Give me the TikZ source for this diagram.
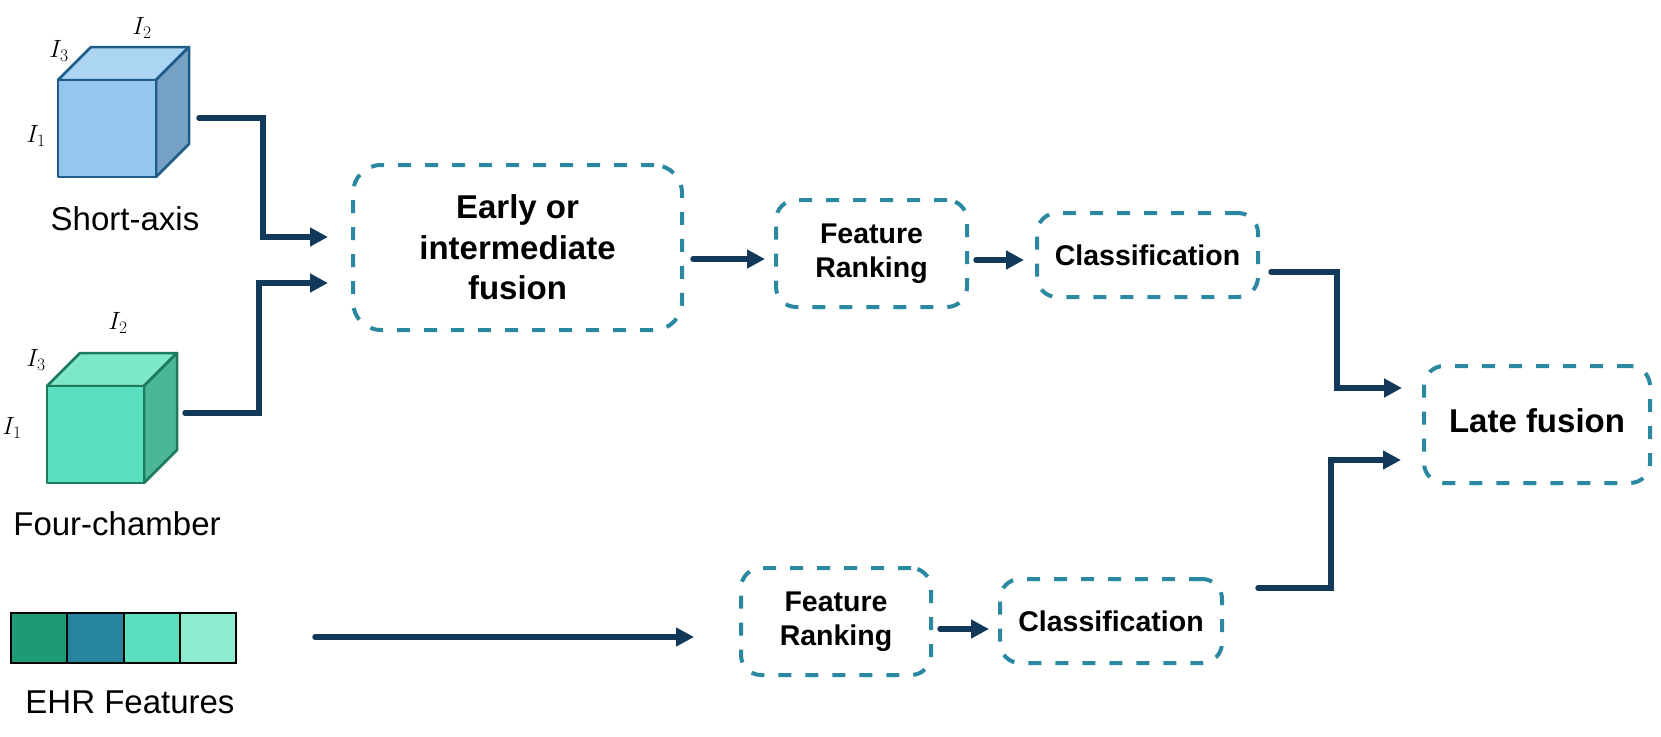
\documentclass[tikz,border=0pt]{standalone}
\usepackage{fix-cm}
\usepackage{fontspec}
\setmainfont{Liberation Sans}
\usetikzlibrary{arrows.meta}
\definecolor{dashc}{HTML}{2A88A0}
\definecolor{arrc}{HTML}{12395A}
\definecolor{cubeAline}{HTML}{1F5C8A}
\definecolor{cubeAfront}{HTML}{93C7EE}
\definecolor{cubeAtop}{HTML}{ABD5F3}
\definecolor{cubeAside}{HTML}{76A3C5}
\definecolor{cubeBline}{HTML}{1E7A5E}
\definecolor{cubeBfront}{HTML}{5AE0BE}
\definecolor{cubeBtop}{HTML}{7DE8C9}
\definecolor{cubeBside}{HTML}{4AB896}
\definecolor{ehrA}{HTML}{1F9A77}
\definecolor{ehrB}{HTML}{26849D}
\definecolor{ehrC}{HTML}{5AE0BF}
\definecolor{ehrD}{HTML}{90EBD3}
\begin{document}
\begin{tikzpicture}[x=1pt,y=-1pt,
  box/.style={draw=dashc, line width=4pt, dash pattern=on 13pt off 14pt,
    rounded corners=20pt, inner sep=0pt, align=center,
    font=\bfseries\fontsize{28.5}{34}\selectfont},
  bigbox/.style={box, rounded corners=28pt, font=\bfseries\fontsize{33}{40.5}\selectfont},
  conn/.style={draw=arrc, line width=5.5pt, line cap=round,
    -{Triangle[length=18pt,width=18pt]}},
  caption/.style={anchor=base, inner sep=0pt, font=\fontsize{33}{40}\selectfont},
  dimlabel/.style={inner sep=0pt, font=\fontsize{25}{30}\selectfont},
  cubeline/.style={line width=2.5pt, line join=round},
  cell/.style={draw=black, line width=2pt}
]
\useasboundingbox (0,0) rectangle (1661,736);

% ---------- Cube 1 (short-axis) ----------
\filldraw[cubeline, draw=cubeAline, fill=cubeAtop] (58,80) -- (91,47) -- (189,47) -- (156,80) -- cycle;
\filldraw[cubeline, draw=cubeAline, fill=cubeAside] (156,80) -- (189,47) -- (189,144) -- (156,177) -- cycle;
\filldraw[cubeline, draw=cubeAline, fill=cubeAfront] (58,80) rectangle (156,177);
\node[dimlabel] (sa2) at (142,28) {$I_2$};
\node[dimlabel] (sa3) at (59,51) {$I_3$};
\node[dimlabel] (sa1) at (36,136) {$I_1$};
\node[caption] (satext) at (125,230) {Short-axis};

% ---------- Cube 2 (four-chamber) ----------
\filldraw[cubeline, draw=cubeBline, fill=cubeBtop] (47,386) -- (80,353) -- (177,353) -- (144,386) -- cycle;
\filldraw[cubeline, draw=cubeBline, fill=cubeBside] (144,386) -- (177,353) -- (177,450) -- (144,483) -- cycle;
\filldraw[cubeline, draw=cubeBline, fill=cubeBfront] (47,386) rectangle (144,483);
\node[dimlabel] (fc2) at (118,323) {$I_2$};
\node[dimlabel] (fc3) at (36,360) {$I_3$};
\node[dimlabel] (fc1) at (12,428) {$I_1$};
\node[caption] (fctext) at (117,535) {Four-chamber};

% ---------- EHR bar ----------
\fill[ehrA] (11,613) rectangle (67.25,663);
\fill[ehrB] (67.25,613) rectangle (123.5,663);
\fill[ehrC] (123.5,613) rectangle (179.75,663);
\fill[ehrD] (179.75,613) rectangle (236,663);
\draw[cell] (11,613) rectangle (67.25,663);
\draw[cell] (67.25,613) rectangle (123.5,663);
\draw[cell] (123.5,613) rectangle (179.75,663);
\draw[cell] (179.75,613) rectangle (236,663);
\node[caption] (ehrtext) at (130,713) {EHR Features};

% ---------- Boxes ----------
\node[bigbox, minimum width=329pt, minimum height=165pt] (early) at (517.5,247.5)
  {Early or\\intermediate\\fusion};
\node[box, minimum width=191pt, minimum height=107pt] (fr1) at (871.5,253.5) {Feature\\Ranking};
\node[box, minimum width=221pt, minimum height=84pt] (cl1) at (1147.5,255) {Classification};
\node[box, minimum width=226pt, minimum height=117pt, font=\bfseries\fontsize{33}{40}\selectfont]
  (late) at (1537,424.5) {\raisebox{8pt}{Late fusion}};
\node[box, minimum width=190pt, minimum height=107pt] (fr2) at (836,621.5) {Feature\\Ranking};
\node[box, minimum width=222pt, minimum height=84pt] (cl2) at (1111,621) {Classification};

% ---------- Connector end points ----------
\coordinate (saout) at (199,118);
\coordinate (fcout) at (185,413);
\coordinate (ehrout) at (315,637);
\coordinate (earlyinA) at (328,237);
\coordinate (earlyinB) at (328,283);
\coordinate (earlyout) at (693,259);
\coordinate (fr1in) at (765,259);
\coordinate (fr1out) at (976,260);
\coordinate (cl1in) at (1024,260);
\coordinate (cl1out) at (1271,272);
\coordinate (lateinA) at (1402,388);
\coordinate (lateinB) at (1401,460);
\coordinate (fr2in) at (694,637);
\coordinate (fr2out) at (940,629);
\coordinate (cl2in) at (989,629);
\coordinate (cl2out) at (1258,588);

% ---------- Connectors ----------
\draw[conn] (saout) -- (263,118) -- (263,237) -- (earlyinA);
\draw[conn] (fcout) -- (259,413) -- (259,283) -- (earlyinB);
\draw[conn] (earlyout) -- (fr1in);
\draw[conn] (fr1out) -- (cl1in);
\draw[conn] (cl1out) -- (1337,272) -- (1337,388) -- (lateinA);
\draw[conn] (ehrout) -- (fr2in);
\draw[conn] (fr2out) -- (cl2in);
\draw[conn] (cl2out) -- (1331,588) -- (1331,460) -- (lateinB);
\end{tikzpicture}
\end{document}
